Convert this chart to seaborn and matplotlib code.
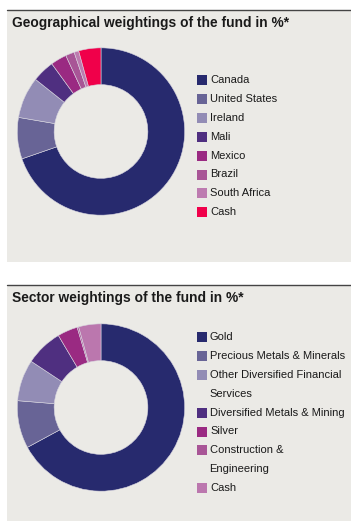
import matplotlib
matplotlib.use("Agg")
import matplotlib.pyplot as plt
import seaborn as sns
from matplotlib.patches import Rectangle
from matplotlib.lines import Line2D

# Data
GEO_LABELS = ["Canada", "United States", "Ireland", "Mali", "Mexico", "Brazil", "South Africa", "Cash"]
GEO_VALUES = [69.7, 8.0, 8.0, 4.3, 3.1, 1.7, 0.9, 4.3]
GEO_COLORS = ["#272a6e", "#686496", "#928cb5", "#4f2f80", "#9a2a82", "#a85596", "#bd7bb0", "#f0004a"]

SECTOR_LABELS = ["Gold", "Precious Metals & Minerals", "Other Diversified Financial\nServices",
                 "Diversified Metals & Mining", "Silver", "Construction &\nEngineering", "Cash"]
SECTOR_VALUES = [67.1, 9.2, 8.0, 7.2, 3.9, 0.3, 4.3]
SECTOR_COLORS = ["#272a6e", "#686496", "#928cb5", "#4f2f80", "#9a2a82", "#a85596", "#bb77ae"]

W, H = 351, 527
BG = "#ebeae6"

sns.set_theme(style="white")
plt.rcParams["font.family"] = ["Liberation Sans Narrow", "Liberation Sans", "DejaVu Sans"]

fig = plt.figure(figsize=(W / 100, H / 100), dpi=100)
fig.patch.set_facecolor("white")


def px_box(x0, y0, w, h):
    # pixel box (top-left origin) -> figure fraction
    return [x0 / W, 1 - (y0 + h) / H, w / W, h / H]


def panel(top, bottom, title):
    fig.patches.append(Rectangle((7 / W, 1 - bottom / H), 1 - 7 / W, (bottom - top) / H,
                                 transform=fig.transFigure, facecolor=BG, edgecolor="none", zorder=-5))
    fig.lines.append(Line2D([7 / W, 1], [1 - (top - 0.5) / H] * 2, transform=fig.transFigure,
                            color="#444444", lw=1.0))
    fig.text(12 / W, 1 - (top + 13) / H, title, fontsize=9.9, fontweight="bold", color="#1a1a1a",
             va="center", ha="left", family=["Liberation Sans", "DejaVu Sans"])


def donut(cy, values, colors):
    r = 84.5
    ax = fig.add_axes(px_box(101 - r, cy - r, 2 * r, 2 * r))
    ax.pie(values, colors=colors, startangle=90, counterclock=False, radius=1,
           wedgeprops=dict(width=0.44, edgecolor="#d8d6e0", linewidth=0.4))
    ax.set_xlim(-1.01, 1.01)
    ax.set_ylim(-1.01, 1.01)
    ax.set_axis_off()


def legend(y0, labels, colors, step=18.9):
    row = 0
    for lab, col in zip(labels, colors):
        y = y0 + row * step
        fig.patches.append(Rectangle((197 / W, 1 - (y + 5) / H), 10 / W, 10 / H,
                                     transform=fig.transFigure, facecolor=col, edgecolor="none"))
        lines = lab.split("\n")
        for i, t in enumerate(lines):
            x = 210 if i == 0 else 209
            fig.text(x / W, 1 - (y + i * step) / H, t, fontsize=8.0, color="#1a1a1a",
                     va="center", ha="left")
        row += len(lines)


panel(10, 262, "Geographical weightings of the fund in %*")
donut(131.5, GEO_VALUES, GEO_COLORS)
legend(80, GEO_LABELS, GEO_COLORS)

panel(285, 521, "Sector weightings of the fund in %*")
donut(407.5, SECTOR_VALUES, SECTOR_COLORS)
legend(337, SECTOR_LABELS, SECTOR_COLORS)

fig.savefig("out.png", dpi=100, facecolor=fig.get_facecolor())
